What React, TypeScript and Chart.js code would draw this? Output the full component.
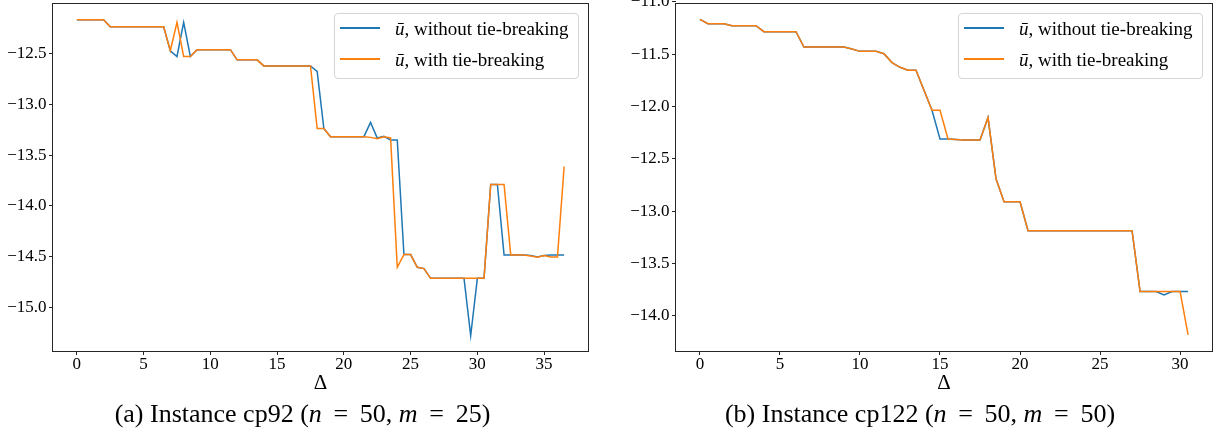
import React, { useEffect, useRef } from 'react';
import { Chart, registerables } from 'chart.js';

Chart.register(...registerables);

// ---------- data: panel (a) cp92 ----------
const deltaA = [
  0, 0.5, 1, 1.5, 2, 2.5, 3, 3.5, 4, 4.5, 5, 5.5, 6, 6.5, 7, 7.5, 8, 8.5, 9, 9.5,
  10, 10.5, 11, 11.5, 12, 12.5, 13, 13.5, 14, 14.5, 15, 15.5, 16, 16.5, 17, 17.5,
  18, 18.5, 19, 19.5, 20, 20.5, 21, 21.5, 22, 22.5, 23, 23.5, 24, 24.5, 25, 25.5,
  26, 26.5, 27, 27.5, 28, 28.5, 29, 29.5, 30, 30.5, 31, 31.5, 32, 32.5, 33, 33.5,
  34, 34.5, 35, 35.5, 36, 36.5,
];
const withoutA = [
  -12.165, -12.165, -12.165, -12.165, -12.165, -12.234, -12.234, -12.234, -12.234, -12.234,
  -12.234, -12.234, -12.234, -12.234, -12.47, -12.527, -12.19, -12.527, -12.46, -12.46,
  -12.46, -12.46, -12.46, -12.46, -12.56, -12.56, -12.56, -12.56, -12.62, -12.62,
  -12.62, -12.62, -12.62, -12.62, -12.62, -12.62, -12.675, -13.237, -13.318, -13.318,
  -13.318, -13.318, -13.318, -13.318, -13.177, -13.332, -13.315, -13.35, -13.35, -14.482,
  -14.482, -14.607, -14.62, -14.716, -14.716, -14.716, -14.716, -14.716, -14.716, -15.28,
  -14.716, -14.716, -13.79, -13.79, -14.485, -14.485, -14.485, -14.485, -14.49, -14.505,
  -14.49, -14.485, -14.485, -14.485,
];
const withA = [
  -12.165, -12.165, -12.165, -12.165, -12.165, -12.234, -12.234, -12.234, -12.234, -12.234,
  -12.234, -12.234, -12.234, -12.234, -12.47, -12.19, -12.527, -12.527, -12.46, -12.46,
  -12.46, -12.46, -12.46, -12.46, -12.56, -12.56, -12.56, -12.56, -12.62, -12.62,
  -12.62, -12.62, -12.62, -12.62, -12.62, -12.62, -13.237, -13.237, -13.318, -13.318,
  -13.318, -13.318, -13.318, -13.318, -13.325, -13.338, -13.318, -13.33, -14.607, -14.482,
  -14.482, -14.607, -14.62, -14.716, -14.716, -14.716, -14.716, -14.716, -14.716, -14.716,
  -14.716, -14.716, -13.79, -13.79, -13.79, -14.485, -14.485, -14.485, -14.495, -14.508,
  -14.49, -14.505, -14.505, -13.612,
];
const xTicksA = [0, 5, 10, 15, 20, 25, 30, 35];
const yTicksA = [-12.5, -13.0, -13.5, -14.0, -14.5, -15.0];

// ---------- data: panel (b) cp122 ----------
const deltaB = [
  0, 0.5, 1, 1.5, 2, 2.5, 3, 3.5, 4, 4.5, 5, 5.5, 6, 6.5, 7, 7.5, 8, 8.5, 9, 9.5,
  10, 10.5, 11, 11.5, 12, 12.5, 13, 13.5, 14, 14.5, 15, 15.5, 16, 16.5, 17, 17.5,
  18, 18.5, 19, 19.5, 20, 20.5, 21, 21.5, 22, 22.5, 23, 23.5, 24, 24.5, 25, 25.5,
  26, 26.5, 27, 27.5, 28, 28.5, 29, 29.5, 30, 30.5,
];
const withoutB = [
  -11.168, -11.209, -11.209, -11.209, -11.228, -11.228, -11.228, -11.228, -11.285, -11.285,
  -11.285, -11.285, -11.285, -11.432, -11.432, -11.432, -11.432, -11.432, -11.432, -11.45,
  -11.473, -11.473, -11.473, -11.495, -11.58, -11.625, -11.654, -11.654, -11.845, -12.035,
  -12.31, -12.31, -12.315, -12.32, -12.32, -12.32, -12.105, -12.69, -12.909, -12.909,
  -12.909, -13.186, -13.186, -13.186, -13.186, -13.186, -13.186, -13.186, -13.186, -13.186,
  -13.186, -13.186, -13.186, -13.186, -13.186, -13.767, -13.767, -13.767, -13.8, -13.767,
  -13.767, -13.767,
];
const withB = [
  -11.168, -11.209, -11.209, -11.209, -11.228, -11.228, -11.228, -11.228, -11.285, -11.285,
  -11.285, -11.285, -11.285, -11.432, -11.432, -11.432, -11.432, -11.432, -11.432, -11.45,
  -11.473, -11.473, -11.473, -11.495, -11.58, -11.625, -11.654, -11.654, -11.845, -12.035,
  -12.035, -12.31, -12.315, -12.32, -12.32, -12.32, -12.105, -12.69, -12.909, -12.909,
  -12.909, -13.186, -13.186, -13.186, -13.186, -13.186, -13.186, -13.186, -13.186, -13.186,
  -13.186, -13.186, -13.186, -13.186, -13.186, -13.767, -13.767, -13.767, -13.767, -13.767,
  -13.767, -14.18,
];
const xTicksB = [0, 5, 10, 15, 20, 25, 30];
const yTicksB = [-11.0, -11.5, -12.0, -12.5, -13.0, -13.5, -14.0];

const legendLabels = ['without tie-breaking', 'with tie-breaking'];
const axisTitle = 'Δ';

const BLUE = '#1f77b4';
const ORANGE = '#ff7f0e';
const SERIF = "'Liberation Serif', 'DejaVu Serif', 'Times New Roman', serif";
const AXIS_COLOR = '#262626';

const framePlugin = {
  id: 'frame',
  afterDraw(chart: any) {
    const { ctx, chartArea } = chart;
    const { left, top, right, bottom } = chartArea;
    ctx.save();
    ctx.strokeStyle = AXIS_COLOR;
    ctx.lineWidth = 1;
    ctx.strokeRect(left, top, right - left, bottom - top);
    ctx.restore();
  },
};

const fmtY = (v: number) => (v < 0 ? '\u2212' : '') + Math.abs(v).toFixed(1);

type PanelProps = {
  xs: number[];
  without: number[];
  withTb: number[];
  xMin: number;
  xMax: number;
  yMin: number;
  yMax: number;
  xTicks: number[];
  yTicks: number[];
  yAxisWidth: number;
  padRight: number;
  width: number;
  left: number;
};

function Panel(p: PanelProps) {
  const ref = useRef<HTMLCanvasElement | null>(null);
  useEffect(() => {
    if (!ref.current) return;
    const toPts = (ys: number[]) => p.xs.map((x, i) => ({ x, y: ys[i] }));
    const chart = new Chart(ref.current, {
      type: 'line',
      data: {
        datasets: [
          {
            label: legendLabels[0],
            data: toPts(p.without),
            borderColor: BLUE,
            backgroundColor: BLUE,
            borderWidth: 1.5,
            pointRadius: 0,
            tension: 0,
            order: 1,
          },
          {
            label: legendLabels[1],
            data: toPts(p.withTb),
            borderColor: ORANGE,
            backgroundColor: ORANGE,
            borderWidth: 1.5,
            pointRadius: 0,
            tension: 0,
            order: 0,
          },
        ],
      },
      options: {
        animation: false,
        responsive: false,
        maintainAspectRatio: false,
        layout: { padding: { left: 0, right: p.padRight, top: 3.5, bottom: 0 } },
        plugins: {
          legend: { display: false },
          tooltip: { enabled: false },
          title: { display: false },
        },
        scales: {
          x: {
            type: 'linear',
            position: 'bottom',
            min: p.xMin,
            max: p.xMax,
            grid: {
              display: true,
              drawOnChartArea: false,
              drawTicks: true,
              tickLength: 3.5,
              color: AXIS_COLOR,
              lineWidth: 1,
            },
            border: { display: false },
            ticks: {
              color: '#000',
              font: { family: SERIF, size: 17, lineHeight: 1 },
              padding: 1,
              maxRotation: 0,
              autoSkip: false,
              callback: (v: any) => String(v),
            },
            title: {
              display: true,
              text: axisTitle,
              color: '#000',
              font: { family: SERIF, size: 21, lineHeight: 1.2 },
              padding: { top: 0, bottom: 4 },
            },
            afterBuildTicks: (s: any) => {
              s.ticks = p.xTicks.map((v) => ({ value: v }));
            },
            afterFit: (s: any) => {
              s.height = 48.5;
              s.paddingLeft = 0;
              s.paddingRight = 0;
              s.paddingTop = 0;
              s.paddingBottom = 0;
            },
          } as any,
          y: {
            type: 'linear',
            position: 'left',
            min: p.yMin,
            max: p.yMax,
            grid: {
              display: true,
              drawOnChartArea: false,
              drawTicks: true,
              tickLength: 3.5,
              color: AXIS_COLOR,
              lineWidth: 1,
            },
            border: { display: false },
            ticks: {
              color: '#000',
              font: { family: SERIF, size: 17, lineHeight: 1.2 },
              padding: 2.5,
              autoSkip: false,
              callback: (v: any) => fmtY(Number(v)),
            },
            afterBuildTicks: (s: any) => {
              s.ticks = p.yTicks.map((v) => ({ value: v }));
            },
            afterFit: (s: any) => {
              s.width = p.yAxisWidth;
              s.paddingLeft = 0;
              s.paddingRight = 0;
              s.paddingTop = 0;
              s.paddingBottom = 0;
            },
          } as any,
        },
      },
      plugins: [framePlugin],
    });
    return () => chart.destroy();
  }, []);
  return (
    <canvas
      ref={ref}
      width={p.width}
      height={400}
      style={{ position: 'absolute', left: p.left, top: 0, width: p.width, height: 400 }}
    />
  );
}

function Legend({ left }: { left: number }) {
  const colors = [BLUE, ORANGE];
  return (
    <div
      style={{
        position: 'absolute',
        left,
        top: 13,
        width: 245,
        height: 66,
        boxSizing: 'border-box',
        border: '1px solid #d4d4d4',
        borderRadius: 4,
        background: 'rgba(255,255,255,0.8)',
        fontFamily: SERIF,
        fontSize: 19,
        color: '#000',
      }}
    >
      {legendLabels.map((lab, i) => (
        <div
          key={i}
          style={{
            position: 'absolute',
            left: 0,
            top: i === 0 ? 0 : 31,
            height: 28,
            display: 'flex',
            alignItems: 'center',
            whiteSpace: 'nowrap',
          }}
        >
          <div style={{ width: 40, height: 1.5, background: colors[i], marginLeft: 5 }} />
          <span style={{ marginLeft: 15, lineHeight: '28px', position: 'relative', top: 1 }}>
            <i>ū</i>, {lab}
          </span>
        </div>
      ))}
    </div>
  );
}

function Caption({ left, children }: { left: number; children: React.ReactNode }) {
  return (
    <div
      style={{
        position: 'absolute',
        left,
        top: 398,
        width: 600,
        textAlign: 'center',
        fontFamily: SERIF,
        fontSize: 26,
        lineHeight: '32px',
        whiteSpace: 'nowrap',
        color: '#000',
      }}
    >
      {children}
    </div>
  );
}

const Eq = () => <span style={{ margin: '0 0.2em' }}>=</span>;

export default function App() {
  return (
    <div
      style={{
        position: 'fixed',
        left: 0,
        top: 0,
        width: 1215,
        height: 440,
        background: '#fff',
        overflow: 'hidden',
      }}
    >
      <Panel
        xs={deltaA}
        without={withoutA}
        withTb={withA}
        xMin={-1.825}
        xMax={38.325}
        yMin={-15.438}
        yMax={-12.004}
        xTicks={xTicksA}
        yTicks={yTicksA}
        yAxisWidth={52.5}
        padRight={18.5}
        width={607}
        left={0}
      />
      <Panel
        xs={deltaB}
        without={withoutB}
        withTb={withB}
        xMin={-1.525}
        xMax={32.025}
        yMin={-14.339}
        yMax={-11.016}
        xTicks={xTicksB}
        yTicks={yTicksB}
        yAxisWidth={68.5}
        padRight={2.5}
        width={608}
        left={607}
      />
      <Legend left={334} />
      <Legend left={958} />
      <Caption left={2.5}>
        (a) Instance cp92 (<i>n</i> <Eq /> 50, <i>m</i> <Eq /> 25)
      </Caption>
      <Caption left={620}>
        (b) Instance cp122 (<i>n</i> <Eq /> 50, <i>m</i> <Eq /> 50)
      </Caption>
    </div>
  );
}
